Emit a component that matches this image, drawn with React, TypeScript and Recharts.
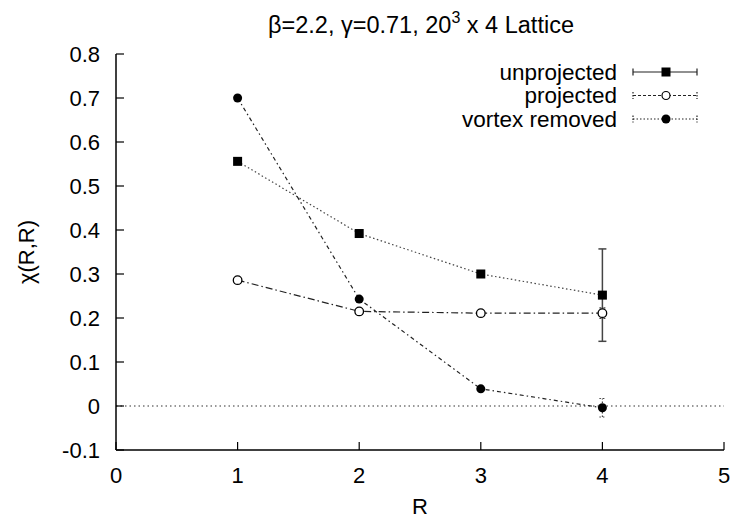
import { ComposedChart, Line, XAxis, YAxis, ReferenceLine, ErrorBar } from 'recharts';

// chi(R,R) values, one entry per R
const R_VALUES = [1, 2, 3, 4];
const UNPROJECTED = [0.556, 0.392, 0.3, 0.252];
const UNPROJECTED_ERR = [null, null, null, 0.105];
const PROJECTED = [0.286, 0.215, 0.211, 0.211];
const PROJECTED_ERR = [null, null, null, 0.012];
const VORTEX_REMOVED = [0.7, 0.243, 0.039, -0.004];
const VORTEX_REMOVED_ERR = [null, null, null, 0.021];

const X_TICKS = [0, 1, 2, 3, 4, 5];
const Y_TICKS = [-0.1, 0, 0.1, 0.2, 0.3, 0.4, 0.5, 0.6, 0.7, 0.8];

const FONT = '"Liberation Sans", Arial, Helvetica, sans-serif';

const data = R_VALUES.map((r, i) => ({
  r,
  unproj: UNPROJECTED[i],
  unprojErr: UNPROJECTED_ERR[i],
  proj: PROJECTED[i],
  projErr: PROJECTED_ERR[i],
  vortex: VORTEX_REMOVED[i],
  vortexErr: VORTEX_REMOVED_ERR[i],
}));

const SquareDot = (props: any) => {
  const { cx, cy, index } = props;
  if (cx == null || cy == null) return null;
  return <rect key={`sq-${index}`} x={cx - 4.5} y={cy - 4.5} width={9} height={9} fill="#000" />;
};

const OpenDot = (props: any) => {
  const { cx, cy, index } = props;
  if (cx == null || cy == null) return null;
  return <circle key={`oc-${index}`} cx={cx} cy={cy} r={4.3} fill="#fff" stroke="#000" strokeWidth={1.3} />;
};

const FilledDot = (props: any) => {
  const { cx, cy, index } = props;
  if (cx == null || cy == null) return null;
  return <circle key={`fc-${index}`} cx={cx} cy={cy} r={4.5} fill="#000" />;
};

const tickStyle = { fontSize: 22, fill: '#000', fontFamily: FONT };

function KeyBox() {
  // legend in the top right corner of the frame, gnuplot style
  const rows = [
    { name: 'unprojected', dash: undefined, marker: 'square' },
    { name: 'projected', dash: '3 2', marker: 'open' },
    { name: 'vortex removed', dash: '1.5 2', marker: 'filled' },
  ];
  return (
    <svg width={733} height={521} style={{ position: 'absolute', left: 0, top: 0, pointerEvents: 'none' }}>
      {rows.map((row, i) => {
        const y = 72 + i * 23.5;
        return (
          <g key={row.name}>
            <text x={617} y={y} textAnchor="end" dominantBaseline="central" fontSize={22.5} fontFamily={FONT} fill="#000">
              {row.name}
            </text>
            <line x1={633} x2={697} y1={y} y2={y} stroke="#222" strokeWidth={1.2} strokeDasharray={row.dash} />
            <line x1={633} x2={633} y1={y - 3.5} y2={y + 3.5} stroke="#222" strokeWidth={1.2} strokeDasharray={row.dash ? '1.5 1.5' : undefined} />
            <line x1={697} x2={697} y1={y - 3.5} y2={y + 3.5} stroke="#222" strokeWidth={1.2} strokeDasharray={row.dash ? '1.5 1.5' : undefined} />
            {row.marker === 'square' && <rect x={661.5} y={y - 4.5} width={9} height={9} fill="#000" />}
            {row.marker === 'open' && <circle cx={666} cy={y} r={4} fill="#fff" stroke="#000" strokeWidth={1.2} />}
            {row.marker === 'filled' && <circle cx={666} cy={y} r={4.5} fill="#000" />}
          </g>
        );
      })}
    </svg>
  );
}

export default function App() {
  return (
    <div style={{ position: 'absolute', left: 0, top: 0, width: 733, height: 521, background: '#fff', fontFamily: FONT }}>
      <ComposedChart width={733} height={521} data={data} margin={{ top: 54, right: 9, bottom: 41, left: 56 }}>
        <XAxis
          xAxisId="bottom"
          dataKey="r"
          type="number"
          domain={[0, 5]}
          ticks={X_TICKS}
          height={30}
          tickSize={-8}
          tickMargin={25}
          tick={tickStyle}
          axisLine={{ stroke: '#000', strokeWidth: 1.5 }}
          tickLine={{ stroke: '#000', strokeWidth: 1.2 }}
          label={{ value: 'R', position: 'bottom', offset: 18, fontSize: 22, fill: '#000', fontFamily: FONT }}
        />
        <XAxis
          xAxisId="top"
          orientation="top"
          dataKey="r"
          type="number"
          domain={[0, 5]}
          ticks={X_TICKS}
          height={0}
          tickSize={-8}
          tick={false}
          axisLine={{ stroke: '#000', strokeWidth: 1.5 }}
          tickLine={{ stroke: '#000', strokeWidth: 1.2 }}
        />
        <YAxis
          yAxisId="left"
          type="number"
          domain={[-0.1, 0.8]}
          ticks={Y_TICKS}
          allowDataOverflow
          width={60}
          tickSize={-8}
          tickMargin={24}
          tick={tickStyle}
          tickFormatter={(v: number) => String(v)}
          axisLine={{ stroke: '#000', strokeWidth: 1.5 }}
          tickLine={{ stroke: '#000', strokeWidth: 1.2 }}
          label={{
            content: (p: any) => {
              const vb = p.viewBox || {};
              const cy = (vb.y ?? 54) + (vb.height ?? 396) / 2;
              return (
                <text
                  x={26}
                  y={cy}
                  transform={`rotate(-90, 26, ${cy})`}
                  textAnchor="middle"
                  dominantBaseline="central"
                  fontSize={22}
                  fontFamily={FONT}
                  fill="#000"
                >
                  χ(R,R)
                </text>
              );
            },
          }}
        />
        <YAxis
          yAxisId="right"
          orientation="right"
          type="number"
          domain={[-0.1, 0.8]}
          ticks={Y_TICKS}
          allowDataOverflow
          width={0}
          tickSize={-8}
          tick={false}
          axisLine={{ stroke: '#000', strokeWidth: 1.5 }}
          tickLine={{ stroke: '#000', strokeWidth: 1.2 }}
        />
        <ReferenceLine xAxisId="bottom" yAxisId="left" y={0} stroke="#333" strokeWidth={1.2} strokeDasharray="1.5 3" />
        <Line
          xAxisId="bottom"
          yAxisId="left"
          type="linear"
          dataKey="unproj"
          stroke="#444"
          strokeWidth={1.2}
          strokeDasharray="1.5 2.5"
          dot={SquareDot}
          activeDot={false}
          isAnimationActive={false}
        >
          <ErrorBar dataKey="unprojErr" width={4} stroke="#444" strokeWidth={1.5} isAnimationActive={false} />
        </Line>
        <Line
          xAxisId="bottom"
          yAxisId="left"
          type="linear"
          dataKey="proj"
          stroke="#222"
          strokeWidth={1.2}
          strokeDasharray="7 3 1.5 3"
          dot={OpenDot}
          activeDot={false}
          isAnimationActive={false}
        >
          <ErrorBar dataKey="projErr" width={3} stroke="#444" strokeWidth={1.2} strokeDasharray="2 2" isAnimationActive={false} />
        </Line>
        <Line
          xAxisId="bottom"
          yAxisId="left"
          type="linear"
          dataKey="vortex"
          stroke="#222"
          strokeWidth={1.2}
          strokeDasharray="4 3 1.5 3"
          dot={FilledDot}
          activeDot={false}
          isAnimationActive={false}
        >
          <ErrorBar dataKey="vortexErr" width={3} stroke="#444" strokeWidth={1.2} strokeDasharray="1.5 2" isAnimationActive={false} />
        </Line>
      </ComposedChart>
      <svg width={733} height={521} style={{ position: 'absolute', left: 0, top: 0, pointerEvents: 'none' }}>
        <text x={421} y={33} textAnchor="middle" fontSize={23.5} fontFamily={FONT} fill="#000">
          β=2.2, γ=0.71, 20
          <tspan dy={-10} fontSize={16}>3</tspan>
          <tspan dy={10}> x 4 Lattice</tspan>
        </text>
      </svg>
      <KeyBox />
    </div>
  );
}
